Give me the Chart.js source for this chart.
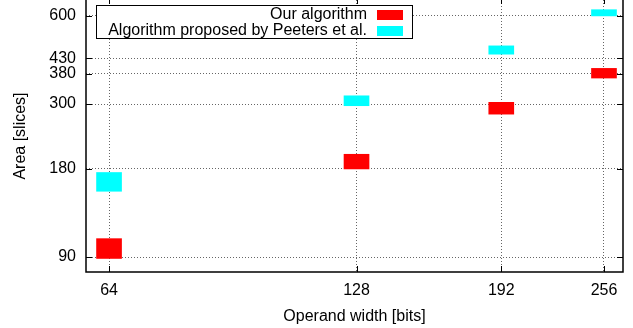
<!DOCTYPE html>
<html>
<head>
<meta charset="utf-8">
<script src="https://cdn.jsdelivr.net/npm/chart.js@4/dist/chart.umd.min.js"></script>
<style>
  html, body { margin: 0; padding: 0; background: #fff; }
  #wrap { width: 633px; height: 328px; }
</style>
</head>
<body>
<div id="wrap"><canvas id="chart"></canvas></div>
<script>
// operand widths on the x axis (bits)
const widths = [64, 128, 192, 256];
// area ranges (slices), low and high end of each box
const oursLow = [89, 180, 277, 368];
const oursHigh = [104, 202, 304, 397];
const peetersLow = [151, 296, 444, 600];
const peetersHigh = [175, 320, 474, 630];
const seriesNames = ["Our algorithm", "Algorithm proposed by Peeters et al."];
const xTicks = [64, 128, 192, 256];
const yTicks = [90, 180, 300, 380, 430, 600];

const FONT = "'Liberation Sans', Arial, sans-serif";

const toBoxes = (lo, hi) => widths.map((w, i) => ({ x: w, y: [lo[i], hi[i]] }));

// gnuplot style frame with inward ticks (top edge of the frame is cut off in the original)
const frame = {
  id: "frame",
  afterDatasetsDraw(chart) {
    const { ctx, chartArea: a, scales } = chart;
    ctx.save();
    ctx.strokeStyle = "#000";
    ctx.lineWidth = 1;
    ctx.beginPath();
    yTicks.forEach(v => {
      const y = Math.round(scales.y.getPixelForValue(v)) + 0.5;
      ctx.moveTo(a.left, y); ctx.lineTo(a.left + 6, y);
      ctx.moveTo(a.right, y); ctx.lineTo(a.right - 6, y);
    });
    xTicks.forEach(v => {
      const x = Math.round(scales.x.getPixelForValue(v)) + 0.5;
      ctx.moveTo(x, a.bottom); ctx.lineTo(x, a.bottom - 6);
      ctx.moveTo(x, a.top); ctx.lineTo(x, a.top + 4);
    });
    ctx.stroke();
    ctx.lineWidth = 1.5;
    ctx.beginPath();
    ctx.moveTo(a.left, a.top);
    ctx.lineTo(a.left, a.bottom);
    ctx.lineTo(a.right, a.bottom);
    ctx.lineTo(a.right, a.top);
    ctx.stroke();
    ctx.restore();
  }
};

// legend box: text right aligned, colour sample on the right
const boxLegend = {
  id: "boxLegend",
  afterDraw(chart) {
    const { ctx, chartArea: a } = chart;
    const left = a.left + 10, top = a.top + 5, right = a.left + 326, bottom = a.top + 38;
    ctx.save();
    ctx.fillStyle = "#fff";
    ctx.fillRect(left, top, right - left, bottom - top);
    ctx.strokeStyle = "#000";
    ctx.lineWidth = 1;
    ctx.strokeRect(left + 0.5, top + 0.5, right - left, bottom - top);
    ctx.font = "16px " + FONT;
    ctx.textAlign = "right";
    ctx.textBaseline = "middle";
    chart.data.datasets.forEach((ds, i) => {
      const cy = top + 10 + i * 16;
      ctx.fillStyle = "#000";
      ctx.fillText(ds.label, right - 45, cy);
      ctx.fillStyle = ds.backgroundColor;
      ctx.fillRect(right - 35, cy - 5, 26, 10);
    });
    ctx.restore();
  }
};

const noPad = s => { s.paddingTop = 0; s.paddingBottom = 0; s.paddingLeft = 0; s.paddingRight = 0; };

new Chart(document.getElementById("chart"), {
  type: "bar",
  data: {
    datasets: [
      {
        label: seriesNames[0],
        data: toBoxes(oursLow, oursHigh),
        backgroundColor: "#ff0000",
        borderWidth: 0,
        barThickness: 25,
        grouped: false
      },
      {
        label: seriesNames[1],
        data: toBoxes(peetersLow, peetersHigh),
        backgroundColor: "#00ffff",
        borderWidth: 0,
        barThickness: 25,
        grouped: false
      }
    ]
  },
  options: {
    responsive: true,
    maintainAspectRatio: false,
    animation: false,
    layout: { padding: { top: 0, right: 10, left: 0, bottom: 0 } },
    plugins: { legend: { display: false }, tooltip: { enabled: false } },
    scales: {
      x: {
        type: "logarithmic",
        min: 60,
        max: 270,
        offset: false,
        afterBuildTicks: s => { s.ticks = xTicks.map(v => ({ value: v })); },
        afterFit: s => { s.height = 56; noPad(s); },
        ticks: {
          callback: v => String(v),
          color: "#000",
          font: { family: FONT, size: 16 },
          padding: 9,
          maxRotation: 0,
          autoSkip: false
        },
        grid: { color: "#666", lineWidth: 1, drawTicks: false, offset: false },
        border: { display: false, dash: [1, 2] },
        title: {
          display: true,
          text: "Operand width [bits]",
          color: "#000",
          font: { family: FONT, size: 16 },
          padding: { top: 0, bottom: 2 }
        }
      },
      y: {
        type: "logarithmic",
        min: 80,
        max: 680,
        afterBuildTicks: s => { s.ticks = yTicks.map(v => ({ value: v })); },
        afterFit: s => { s.width = 86; noPad(s); },
        ticks: {
          callback: v => String(v),
          color: "#000",
          font: { family: FONT, size: 16 },
          padding: 10,
          autoSkip: false
        },
        grid: { color: "#666", lineWidth: 1, drawTicks: false },
        border: { display: false, dash: [1, 2] },
        title: {
          display: true,
          text: "Area [slices]",
          color: "#000",
          font: { family: FONT, size: 16 },
          padding: { top: 11, bottom: 4 }
        }
      }
    }
  },
  plugins: [frame, boxLegend]
});
</script>
</body>
</html>
